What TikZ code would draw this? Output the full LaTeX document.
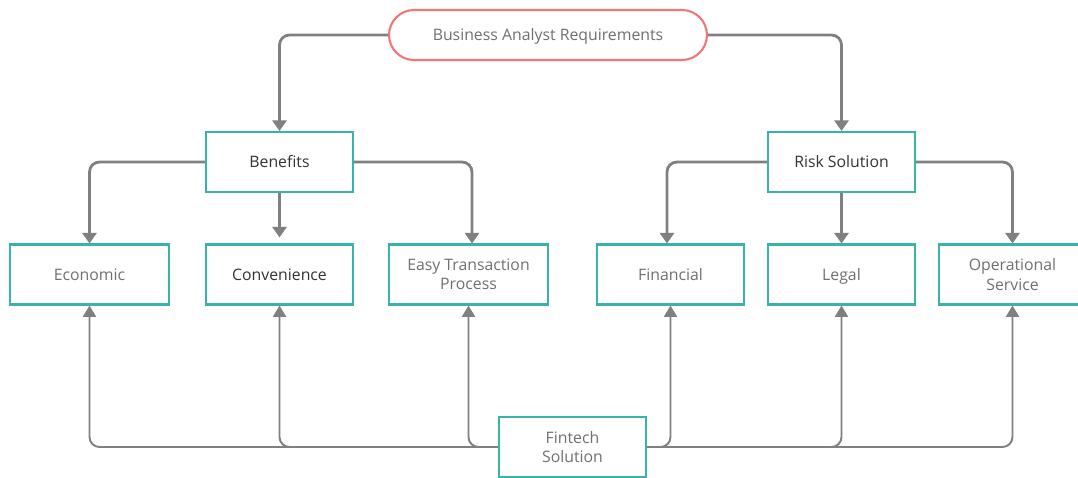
\documentclass[tikz,border=0pt]{standalone}
\usepackage{fontspec}
\setmainfont{Open Sans}
\usetikzlibrary{arrows.meta}
\definecolor{boxteal}{RGB}{58,178,172}
\definecolor{rootred}{RGB}{238,120,120}
\definecolor{linegray}{RGB}{128,128,128}
\definecolor{softtext}{RGB}{112,112,112}
\definecolor{darktext}{RGB}{51,51,51}

\begin{document}
\begin{tikzpicture}[x=0.02cm,y=-0.02cm,
    font=\fontsize{9}{11}\selectfont,
    leaf/.style={draw=boxteal,line width=1.2pt,fill=white,minimum width=2.94cm,
        minimum height=1.2cm,align=center,text=softtext,inner sep=2pt},
    oneline/.style={text height=1.7ex,text depth=.5ex},
    root/.style={draw=rootred,line width=1.2pt,fill=white,rounded corners=0.5cm,
        minimum width=6.36cm,minimum height=1cm,text=softtext,oneline},
    arr/.style={draw=linegray,line width=1.6pt,rounded corners=0.2cm,
        -{Triangle[width=8pt,length=6pt]}},
    up/.style={draw=linegray,line width=1.1pt,rounded corners=0.2cm,
        -{Triangle[width=7.5pt,length=6.5pt]}}]
    \useasboundingbox (0,0) rectangle (1078,477);
    \clip (0,0) rectangle (1078,477);
    % nodes
    \node[root] (bar) at (548,35) {Business Analyst Requirements};
    \node[leaf,oneline,text=darktext] (benefits) at (279.5,162) {Benefits};
    \node[leaf,oneline,text=darktext] (risk) at (841.5,162) {Risk Solution};
    \node[leaf,oneline,minimum width=3.18cm] (economic) at (89.5,274.5) {Economic};
    \node[leaf,oneline,text=darktext] (convenience) at (279.5,274.5) {Convenience};
    \node[leaf,minimum width=3.18cm] (easy) at (468.5,274.5) {Easy Transaction\\Process};
    \node[leaf,oneline] (financial) at (670.5,274.5) {Financial};
    \node[leaf,oneline] (legal) at (841.5,274.5) {Legal};
    \node[leaf] (operational) at (1012.5,274.5) {Operational\\Service};
    % connectors
    \draw[up] (499,447) -| (economic.south);
    \draw[up] (499,447) -| (convenience.south);
    \draw[up] (499,447) -| (easy.south);
    \draw[up] (646,447) -| (financial.south);
    \draw[up] (646,447) -| (legal.south);
    \draw[up] (646,447) -| (operational.south);
    \node[leaf] (fintech) at (572.5,447) {Fintech\\Solution};
    \draw[arr] (bar.west) -| (benefits.north);
    \draw[arr] (bar.east) -| (risk.north);
    \draw[arr] (benefits.west) -| (economic.north);
    \draw[arr,shorten >=0.12cm] (benefits.south) -- (convenience.north);
    \draw[arr] (benefits.east) -| ([xshift=0.07cm]easy.north);
    \draw[arr] (risk.west) -| ([xshift=-0.07cm]financial.north);
    \draw[arr] (risk.south) -- (legal.north);
    \draw[arr] (risk.east) -| (operational.north);
\end{tikzpicture}
\end{document}
